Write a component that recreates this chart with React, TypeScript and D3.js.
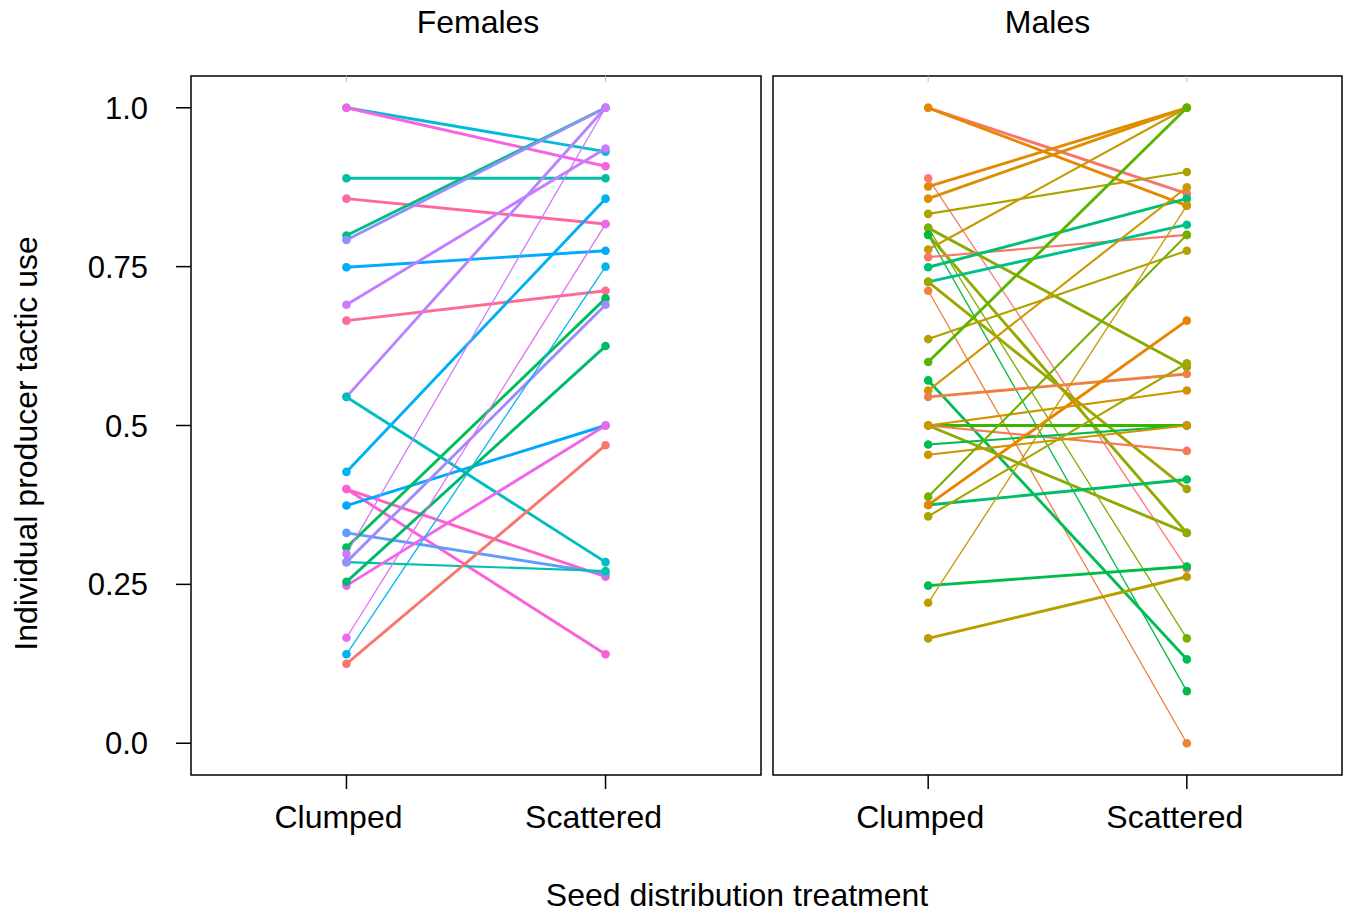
import React from "react";
import * as d3 from "d3";

// Treatment levels and y axis ticks
const treatments = ["Clumped", "Scattered"];
const yTickValues = [0, 0.25, 0.5, 0.75, 1];
const yTickLabels = ["0.0", "0.25", "0.5", "0.75", "1.0"];

// Females: producer tactic use per individual under each treatment
const femaleClumped = [
  1.0, 1.0, 0.889, 0.857, 0.799, 0.792, 0.749, 0.69, 0.665, 0.545, 0.545, 0.427, 0.4,
  0.4, 0.374, 0.331, 0.308, 0.298, 0.285, 0.285, 0.248, 0.254, 0.166, 0.14, 0.125,
];
const femaleScattered = [
  0.931, 0.908, 0.889, 0.817, 1.0, 1.0, 0.775, 0.936, 0.712, 1.0, 0.285, 0.857, 0.262,
  0.14, 0.5, 0.267, 0.7, 1.0, 0.271, 0.69, 0.5, 0.625, 0.817, 0.75, 0.469,
];
// Number of observations per female (drives line weight)
const femaleObs = [3, 3, 3, 3, 3, 3, 3, 3, 3, 3, 3, 3, 3, 3, 3, 3, 3, 1, 2, 3, 3, 3, 1, 1, 3];

// Males: producer tactic use per individual under each treatment
const maleClumped = [
  1.0, 1.0, 0.889, 0.876, 0.857, 0.833, 0.811, 0.811, 0.8, 0.8, 0.777, 0.765, 0.749, 0.726,
  0.726, 0.712, 0.636, 0.6, 0.571, 0.555, 0.545, 0.5, 0.5, 0.5, 0.5, 0.47, 0.454, 0.388,
  0.375, 0.375, 0.357, 0.248, 0.221, 0.165,
];
const maleScattered = [
  0.865, 0.846, 0.275, 1.0, 1.0, 0.899, 0.592, 0.165, 0.331, 0.082, 1.0, 0.8, 0.857, 0.816,
  0.4, 0.0, 0.775, 1.0, 0.132, 0.875, 0.581, 0.5, 0.46, 0.331, 0.555, 0.5, 0.5, 0.8,
  0.415, 0.665, 0.598, 0.278, 0.846, 0.262,
];
const maleObs = [
  3, 3, 1, 3, 3, 2, 3, 1, 3, 1, 2, 2, 3, 3, 3, 1, 2, 3, 3, 2, 3, 3, 2, 3, 2, 2, 2, 2, 3, 3,
  2, 3, 1, 3,
];

// Colour per individual (hue palette order)
const femaleColors = [
  "#00BCD6", "#F564E3", "#00BFA4", "#FF67A4", "#00BF7D", "#8F91FF", "#00ABFD", "#C77CFF",
  "#FF6C91", "#B983FF", "#00BDC2", "#00B0F6", "#FF61C3", "#FB61D7", "#00A9FF", "#619CFF",
  "#00BD5C", "#D078FF", "#00C0B0", "#9E8CFF", "#F066EA", "#00BA6A", "#E76BF3", "#00B4EF",
  "#F8766D",
];
const maleColors = [
  "#F8766D", "#E58700", "#FA7876", "#E38900", "#DB8E00", "#AEA200", "#8AAB00", "#7CAE00",
  "#93AA00", "#00BA42", "#C49A00", "#F57963", "#00BF74", "#00C08B", "#A0A600", "#F0803C",
  "#B0A100", "#5BB300", "#00BC56", "#CD9600", "#EE8044", "#39B600", "#F37B59", "#8FAA00",
  "#D29300", "#00BB4E", "#D09400", "#72B000", "#00BE68", "#E98400", "#A8A400", "#00BC48",
  "#C29A00", "#BA9E00",
];

const W = 1350;
const H = 913;
const top = 76;
const bottom = 775;
const panels = [
  { title: "Females", titleShift: 2, x0: 191, x1: 761, clumped: femaleClumped, scattered: femaleScattered, obs: femaleObs, colors: femaleColors },
  { title: "Males", titleShift: -10, x0: 773, x1: 1342, clumped: maleClumped, scattered: maleScattered, obs: maleObs, colors: maleColors },
];

const font = "'Liberation Sans', Arial, Helvetica, sans-serif";
const fontSize = 32;

const y = d3.scaleLinear().domain([-0.05, 1.05]).range([bottom, top]);
const widthScale = d3.scaleLinear().domain([1, 3]).range([1.3, 2.9]);

function Panel({ p }: { p: (typeof panels)[number] }) {
  const x = d3.scalePoint<string>().domain(treatments).range([p.x0, p.x1]).padding(0.6);
  const line = d3
    .line<[string, number]>()
    .x((d) => x(d[0]) as number)
    .y((d) => y(d[1]));
  const ids = d3.range(p.clumped.length);
  const labelShift: Record<string, number> = { Clumped: -8, Scattered: -12 };
  return (
    <g>
      <text
        x={(p.x0 + p.x1) / 2 + p.titleShift}
        y={33}
        textAnchor="middle"
        fontFamily={font}
        fontSize={fontSize}
        fill="#000"
      >
        {p.title}
      </text>
      {ids.map((i) => (
        <path
          key={"l" + i}
          d={line([
            [treatments[0], p.clumped[i]],
            [treatments[1], p.scattered[i]],
          ]) as string}
          fill="none"
          stroke={p.colors[i]}
          strokeWidth={widthScale(p.obs[i])}
        />
      ))}
      {ids.map((i) => (
        <g key={"p" + i} fill={p.colors[i]}>
          <circle cx={x(treatments[0])} cy={y(p.clumped[i])} r={4.3} />
          <circle cx={x(treatments[1])} cy={y(p.scattered[i])} r={4.3} />
        </g>
      ))}
      <rect
        x={p.x0}
        y={top}
        width={p.x1 - p.x0}
        height={bottom - top}
        fill="none"
        stroke="#000"
        strokeWidth={1.5}
      />
      {treatments.map((t) => (
        <g key={t}>
          <line x1={x(t)} x2={x(t)} y1={bottom} y2={bottom + 14} stroke="#000" strokeWidth={1.5} />
          <line x1={x(t)} x2={x(t)} y1={top} y2={top + 6} stroke="#bbb" strokeWidth={1} />
          <text
            x={(x(t) as number) + labelShift[t]}
            y={828}
            textAnchor="middle"
            fontFamily={font}
            fontSize={fontSize}
            fill="#000"
          >
            {t}
          </text>
        </g>
      ))}
    </g>
  );
}

export default function App() {
  return (
    <svg width={W} height={H} style={{ display: "block", position: "absolute", left: 0, top: 0, background: "#fff" }}>
      <rect width={W} height={H} fill="#fff" />
      {yTickValues.map((v, i) => (
        <g key={v}>
          <line x1={176} x2={191} y1={y(v)} y2={y(v)} stroke="#000" strokeWidth={1.5} />
          <text
            x={148}
            y={y(v) + 11}
            textAnchor="end"
            fontFamily={font}
            fontSize={31}
            fill="#000"
          >
            {yTickLabels[i]}
          </text>
        </g>
      ))}
      {panels.map((p) => (
        <Panel key={p.title} p={p} />
      ))}
      <text
        transform={`translate(37, ${(top + bottom) / 2 + 18}) rotate(-90)`}
        textAnchor="middle"
        fontFamily={font}
        fontSize={fontSize}
        fill="#000"
      >
        Individual producer tactic use
      </text>
      <text x={737} y={906} textAnchor="middle" fontFamily={font} fontSize={fontSize} fill="#000">
        Seed distribution treatment
      </text>
    </svg>
  );
}
